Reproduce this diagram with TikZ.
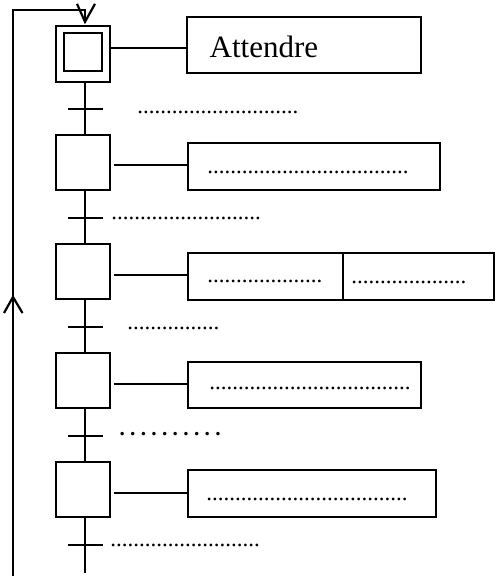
\documentclass[tikz,border=0pt]{standalone}
\usepackage{fontspec}
\setmainfont{Liberation Serif}
\usetikzlibrary{calc}
\frenchspacing
\begin{document}
\begin{tikzpicture}[x=1pt,y=-1pt,
  stepbox/.style={draw,line width=2.3pt,minimum width=54pt,minimum height=55pt,inner sep=0pt},
  actbox/.style={draw,line width=2.2pt,inner sep=0pt},
  link/.style={line width=1.8pt},
  chain/.style={line width=2.2pt},
  bar/.style={line width=2.2pt},
  barb/.style={line width=2.2pt,line join=miter},
  dotstxt/.style={anchor=base west,inner sep=0pt,font=\fontsize{23}{23}\selectfont}
]
\useasboundingbox (0,0) rectangle (496,576);
\fill[white] (0,0) rectangle (496,576);

% steps
\node[stepbox,minimum height=56pt] (s1) at (83,54) {};
\node[draw,line width=2.3pt,minimum size=38pt,inner sep=0pt] (s1i) at (83,52) {};
\node[stepbox] (s2) at (83,162.5) {};
\node[stepbox] (s3) at (83,271.5) {};
\node[stepbox] (s4) at (83,380.5) {};
\node[stepbox] (s5) at (83,489.5) {};

% actions
\node[actbox,minimum width=234pt,minimum height=56pt] (a1) at (304,45) {};
\node[actbox,minimum width=252pt,minimum height=47pt] (a2) at (314,166.5) {};
\node[actbox,minimum width=155pt,minimum height=47pt] (a3l) at (265.5,276.5) {};
\node[actbox,minimum width=151pt,minimum height=47pt] (a3r) at (418.5,276.5) {};
\node[actbox,minimum width=233pt,minimum height=46pt] (a4) at (304.5,385) {};
\node[actbox,minimum width=248pt,minimum height=47pt] (a5) at (312,493.5) {};

% links
\draw[link] (s1.east) ++(0,-6) coordinate (l1) -- (l1 -| a1.west);
\draw[link] (s2.east) ++(2.5,2.5) coordinate (l2) -- (l2 -| a2.west);
\draw[link] (s3.east) ++(2.5,3.5) coordinate (l3) -- (l3 -| a3l.west);
\draw[link] (s4.east) ++(2.5,3.5) coordinate (l4) -- (l4 -| a4.west);
\draw[link] (s5.east) ++(2.5,3.5) coordinate (l5) -- (l5 -| a5.west);

% transitions
\coordinate (t1) at (85,109);
\coordinate (t2) at (85,218);
\coordinate (t3) at (85,327);
\coordinate (t4) at (85,436);
\coordinate (t5) at (85,545);
\coordinate (cend) at (85,573);

\draw[chain] ([xshift=2pt]s1.south) -- ([xshift=2pt]s2.north);
\draw[chain] ([xshift=2pt]s2.south) -- ([xshift=2pt]s3.north);
\draw[chain] ([xshift=2pt]s3.south) -- ([xshift=2pt]s4.north);
\draw[chain] ([xshift=2pt]s4.south) -- ([xshift=2pt]s5.north);
\draw[chain] ([xshift=2pt]s5.south) -- (cend);

\foreach \t in {t1,t2,t3,t4,t5}
  \draw[bar] (\t) ++(-17.5,0) -- ++(35,0);

% loop back
\coordinate (lb) at (13,576);
\coordinate (lm) at (13,297);
\coordinate (lt) at (13,10);
\coordinate (s1in) at ([xshift=2pt]s1.north);
\coordinate (tipa) at ([yshift=3pt]s1in);
\draw[chain] (lb) -- (lm) -- (lt) -- (lt -| s1in) -- (tipa);
\draw[barb] (lm) ++(-9,16) -- (lm) -- ++(9.5,16);
\draw[barb] (tipa) ++(-8,-18) -- (tipa) -- ++(10,-18);

% texts
\node[anchor=base west,inner sep=0pt,font=\fontsize{31}{31}\selectfont] (txa1) at (209.5,57) {Attendre};
\node[dotstxt] (d1) at (137.1,113.2) {............................};
\node[dotstxt] (da2) at (207.1,173.2) {...................................};
\node[dotstxt] (d2) at (111.1,219.2) {..........................};
\node[dotstxt] (da3l) at (207.1,282.7) {....................};
\node[dotstxt] (da3r) at (351.1,283.2) {....................};
\node[dotstxt] (d3) at (127.1,329.2) {................};
\node[anchor=base west,inner sep=0pt,font=\fontsize{21.3}{21.3}\selectfont\bfseries] (d4) at (119.3,435.5) {. . . . . . . . . .};
\node[dotstxt] (da4) at (209.1,389.2) {...................................};
\node[dotstxt] (da5) at (206.1,500.2) {...................................};
\node[dotstxt] (d5) at (110.1,546.2) {..........................};
\end{tikzpicture}
\end{document}
